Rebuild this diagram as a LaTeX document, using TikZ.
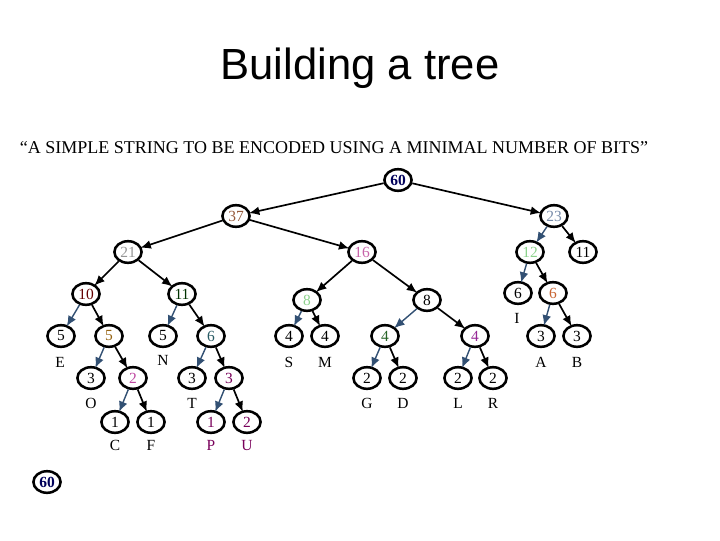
\documentclass[tikz,border=0pt]{standalone}
\usepackage{fontspec}
\setmainfont{Liberation Serif}
\newfontfamily\titlefont{Liberation Sans}
\definecolor{navy}{RGB}{0,0,90}
\definecolor{brown37}{RGB}{150,90,60}
\definecolor{slate23}{RGB}{120,140,170}
\definecolor{gray21}{RGB}{150,150,150}
\definecolor{pink16}{RGB}{200,100,170}
\definecolor{green12}{RGB}{140,210,140}
\definecolor{red10}{RGB}{100,0,0}
\definecolor{green11}{RGB}{0,50,0}
\definecolor{olive5}{RGB}{150,100,20}
\definecolor{teal6}{RGB}{40,90,100}
\definecolor{orchid2}{RGB}{190,70,160}
\definecolor{plum}{RGB}{120,0,90}
\definecolor{green4}{RGB}{40,100,40}
\definecolor{purple4}{RGB}{150,40,150}
\definecolor{orange6}{RGB}{200,100,50}
\definecolor{edgeblue}{RGB}{50,80,115}
\usetikzlibrary{arrows.meta, shapes.geometric}

\begin{document}
\begin{tikzpicture}[x=0.025cm, y=-0.025cm,
    wt/.style={draw, ellipse, line width=1.8pt, minimum width=0.68cm, minimum height=0.54cm, inner sep=0pt, font=\fontsize{11}{12}\selectfont},
    sym/.style={font=\fontsize{11}{12}\selectfont},
    arrow/.style={-{Latex[length=2.6mm, width=2.2mm]}, line width=1.2pt, shorten >=-1pt},
    barrow/.style={arrow, draw=edgeblue, line width=1pt}
]
\useasboundingbox (0,0) rectangle (720,540);

% --- Title ---
\node[font=\titlefont\fontsize{31}{34}\selectfont] (title) at (360,68) {Building a tree};
\node[font=\fontsize{12.8}{14}\selectfont] (quote) at (334,148) {``A SIMPLE STRING TO BE ENCODED USING A MINIMAL NUMBER OF BITS''};

% --- Upper levels ---
\node[wt, text=navy, font=\bfseries\fontsize{11}{12}\selectfont] (n60) at (398,180) {60};
\node[wt, text=brown37] (n37) at (236,216) {37};
\node[wt, text=slate23] (n23) at (554,216) {23};
\node[wt, text=gray21] (n21) at (128,252) {21};
\node[wt, text=pink16] (n16) at (362,252) {16};
\node[wt, text=green12] (n12) at (530,252) {12};
\node[wt] (n11b) at (583,252) {11};
\node[wt, text=red10] (n10) at (86,294) {10};
\node[wt, text=green11] (n11) at (182,294) {11};
\node[wt, text=green12] (n8a) at (307,300) {8};
\node[wt] (n8b) at (427,300) {8};
\node[wt] (n6i) at (518,293) {6};
\node[wt, text=orange6] (n6o) at (553,293) {6};

% --- Middle levels ---
\node[wt] (n5e) at (61,336) {5};
\node[wt, text=olive5] (n5) at (109,336) {5};
\node[wt] (n5n) at (163,336) {5};
\node[wt, text=teal6] (n6) at (211,336) {6};
\node[wt] (n4s) at (289,336) {4};
\node[wt] (n4m) at (325,336) {4};
\node[wt, text=green4] (n4g) at (385,336) {4};
\node[wt, text=purple4] (n4p) at (475,336) {4};
\node[wt] (n3a) at (541,336) {3};
\node[wt] (n3b) at (577,336) {3};
\node[wt] (n3o) at (91,378) {3};
\node[wt, text=orchid2] (n2) at (133,378) {2};
\node[wt] (n3t) at (192,378) {3};
\node[wt, text=plum] (n3) at (229,378) {3};
\node[wt] (n2g) at (367,378) {2};
\node[wt] (n2d) at (403,378) {2};
\node[wt] (n2l) at (458,378) {2};
\node[wt] (n2r) at (493,378) {2};
\node[wt] (n1c) at (115,422) {1};
\node[wt] (n1f) at (151,422) {1};
\node[wt, text=plum] (n1p) at (211,422) {1};
\node[wt, text=plum] (n2u) at (247,422) {2};

% --- Symbols ---
\node[sym] (le) at (60,362) {E};
\node[sym] (ln) at (163,360) {N};
\node[sym] (ls) at (289,362) {S};
\node[sym] (lm) at (325,362) {M};
\node[sym] (li) at (517,318) {I};
\node[sym] (la) at (541,362) {A};
\node[sym] (lb) at (577,362) {B};
\node[sym] (lo) at (91,403) {O};
\node[sym] (lt) at (192,403) {T};
\node[sym] (lg) at (367,403) {G};
\node[sym] (ld) at (403,403) {D};
\node[sym] (ll) at (458,403) {L};
\node[sym] (lr) at (493,403) {R};
\node[sym] (lc) at (115,445) {C};
\node[sym] (lf) at (151,445) {F};
\node[sym, text=plum] (lp) at (211,445) {P};
\node[sym, text=plum] (lu) at (247,445) {U};

% --- Total again ---
\node[wt, text=navy, font=\bfseries\fontsize{11}{12}\selectfont] (n60s) at (47,482) {60};

% --- Edges ---
\draw[arrow] (n60) -- (n37);
\draw[arrow] (n60) -- (n23);
\draw[arrow] (n37) -- (n21);
\draw[arrow] (n37) -- (n16);
\draw[barrow] (n23) -- (n12);
\draw[arrow] (n23) -- (n11b);
\draw[arrow] (n21) -- (n10);
\draw[arrow] (n21) -- (n11);
\draw[arrow] (n16) -- (n8a);
\draw[arrow] (n16) -- (n8b);
\draw[barrow] (n12) -- (n6i);
\draw[arrow] (n12) -- (n6o);
\draw[barrow] (n10) -- (n5e);
\draw[arrow] (n10) -- (n5);
\draw[barrow] (n11) -- (n5n);
\draw[arrow] (n11) -- (n6);
\draw[barrow] (n8a) -- (n4s);
\draw[arrow] (n8a) -- (n4m);
\draw[barrow] (n8b) -- (n4g);
\draw[arrow] (n8b) -- (n4p);
\draw[barrow] (n6o) -- (n3a);
\draw[arrow] (n6o) -- (n3b);
\draw[barrow] (n5) -- (n3o);
\draw[arrow] (n5) -- (n2);
\draw[barrow] (n6) -- (n3t);
\draw[arrow] (n6) -- (n3);
\draw[barrow] (n4g) -- (n2g);
\draw[arrow] (n4g) -- (n2d);
\draw[barrow] (n4p) -- (n2l);
\draw[arrow] (n4p) -- (n2r);
\draw[barrow] (n2) -- (n1c);
\draw[arrow] (n2) -- (n1f);
\draw[barrow] (n3) -- (n1p);
\draw[arrow] (n3) -- (n2u);

\end{tikzpicture}
\end{document}
